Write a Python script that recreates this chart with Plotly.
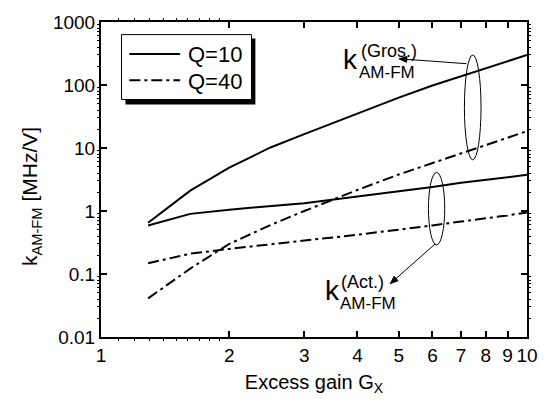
import plotly.graph_objects as go
import math

# ---- data ----
gain_x = [1.29, 1.62, 2, 2.5, 3, 4, 5, 6, 7, 8, 9, 10]
gros_q10 = [0.65, 2.1, 4.9, 10.2, 16.6, 35, 63, 98, 138, 186, 244, 300]
gros_q40 = [0.041, 0.122, 0.30, 0.60, 1.0, 2.16, 3.8, 5.8, 8.2, 11.1, 14.5, 18.5]
act_q10 = [0.59, 0.90, 1.05, 1.2, 1.33, 1.7, 2.05, 2.41, 2.8, 3.15, 3.45, 3.75]
act_q40 = [0.148, 0.21, 0.25, 0.30, 0.34, 0.42, 0.5, 0.59, 0.68, 0.76, 0.85, 0.95]

x_ticks = [1, 2, 3, 4, 5, 6, 7, 8, 9, 10]
x_ticktext = ["1", "2", "3", "4", "5", "6", "7", "8", "9", "10"]
y_ticks = [0.01, 0.1, 1, 10, 100, 1000]
y_ticktext = ["0.01", "0.1", "1", "10", "100", "1000"]
legend_names = ["Q=10", "Q=40"]

FONT = "Arial, Liberation Sans, sans-serif"
DASHDOT = "11px,4px,3px,4px"

fig = go.Figure()
for yv, dash, name in [
    (gros_q10, "solid", legend_names[0]),
    (gros_q40, DASHDOT, legend_names[1]),
    (act_q10, "solid", legend_names[0]),
    (act_q40, DASHDOT, legend_names[1]),
]:
    fig.add_trace(go.Scatter(x=gain_x, y=yv, mode="lines", name=name,
                             line=dict(color="black", width=2, dash=dash),
                             showlegend=False))

# pixel helpers (plot area: x 101..537, y 12..337)
def pxx(px):
    return (px - 101) / 436.0

def pxy(py):
    return (337 - py) / 325.0

def dx(px):
    return 10 ** ((px - 101) / 436.0)

def dy(py):
    return 10 ** ((207 - py) / 65.0)

shapes = []
# manual legend with drop shadow
shapes.append(dict(type="rect", xref="paper", yref="paper",
                   x0=pxx(126), x1=pxx(259), y0=pxy(97), y1=pxy(29),
                   fillcolor="black", line=dict(width=0), layer="above"))
shapes.append(dict(type="rect", xref="paper", yref="paper",
                   x0=pxx(122), x1=pxx(255), y0=pxy(92), y1=pxy(25),
                   fillcolor="white", line=dict(color="black", width=1), layer="above"))
for i, dash in enumerate(["solid", DASHDOT]):
    yy = pxy(45 + 27 * i)
    shapes.append(dict(type="line", xref="paper", yref="paper",
                       x0=pxx(130), x1=pxx(182), y0=yy, y1=yy,
                       line=dict(color="black", width=2, dash=dash), layer="above"))

# ellipses
shapes.append(dict(type="circle", xref="x", yref="y", x0=7.13, x1=7.80, y0=6.5, y1=300,
                   line=dict(color="black", width=1)))
shapes.append(dict(type="circle", xref="x", yref="y", x0=5.87, x1=6.41, y0=0.29, y1=4.1,
                   line=dict(color="black", width=1)))

# arrows as line + filled head
def arrow(tx, ty, hx, hy):
    L = math.hypot(hx - tx, hy - ty)
    ux, uy = (hx - tx) / L, (hy - ty) / L
    nx, ny = -uy, ux
    bx, by = hx - 8 * ux, hy - 8 * uy
    shapes.append(dict(type="line", xref="x", yref="y",
                       x0=dx(tx), y0=dy(ty), x1=dx(bx), y1=dy(by),
                       line=dict(color="black", width=1)))
    p1 = (bx + 3 * nx, by + 3 * ny)
    p2 = (bx - 3 * nx, by - 3 * ny)
    path = "M{},{} L{},{} L{},{} Z".format(dx(hx), dy(hy), dx(p1[0]), dy(p1[1]), dx(p2[0]), dy(p2[1]))
    shapes.append(dict(type="path", xref="x", yref="y", path=path,
                       fillcolor="black", line=dict(color="black", width=1)))

arrow(475, 55, 406, 50)
arrow(443, 241, 397, 282)

annotations = []
for i, name in enumerate(legend_names):
    annotations.append(dict(xref="paper", yref="paper", x=pxx(188), y=pxy(46 + 27 * i),
                            text=name, showarrow=False, xanchor="left", yanchor="middle",
                            font=dict(family=FONT, size=22, color="black")))

def lab(text, px, py, size, anchor="center"):
    annotations.append(dict(xref="paper", yref="paper", x=pxx(px), y=pxy(py), text=text,
                            showarrow=False, xanchor=anchor, yanchor="middle",
                            font=dict(family=FONT, size=size, color="black")))

lab("k", 356, 51, 28)
lab("(Gros.)", 365, 42, 18, "left")
lab("AM-FM", 363, 64, 17, "left")
lab("k", 338, 289, 28)
lab("(Act.)", 345, 280, 18, "left")
lab("AM-FM", 344, 302, 17, "left")

# y-axis title as rotated annotation
annotations.append(dict(xref="paper", yref="paper", x=pxx(30), y=pxy(192),
                        text="k<sub>AM-FM</sub> [MHz/V]", textangle=-90, showarrow=False,
                        xanchor="center", yanchor="middle",
                        font=dict(family=FONT, size=21, color="black")))

minor_x = [1 + 0.1 * i for i in range(1, 10)]
minor_y = [m * 10 ** e for e in range(-2, 3) for m in range(2, 10)]

fig.update_layout(
    width=550, height=408,
    margin=dict(l=101, r=13, t=12, b=71),
    paper_bgcolor="white", plot_bgcolor="white",
    font=dict(family=FONT, color="black"),
    shapes=shapes, annotations=annotations,
    showlegend=False,
    xaxis=dict(type="log", range=[0, 1], tickmode="array", tickvals=x_ticks, ticktext=x_ticktext,
               ticks="inside", ticklen=6, tickwidth=1.5, tickcolor="black",
               showline=True, linewidth=2, linecolor="black", mirror="allticks",
               showgrid=False, zeroline=False, tickfont=dict(size=19),
               minor=dict(tickmode="array", tickvals=minor_x, ticks="outside", ticklen=2,
                          tickwidth=1, tickcolor="black", showgrid=False),
               title=dict(text="Excess gain G<sub>X</sub>", font=dict(size=20), standoff=10)),
    yaxis=dict(type="log", range=[-2, 3], tickmode="array", tickvals=y_ticks, ticktext=y_ticktext,
               ticks="inside", ticklen=6, tickwidth=1.5, tickcolor="black",
               showline=True, linewidth=2, linecolor="black", mirror="allticks",
               showgrid=False, zeroline=False, tickfont=dict(size=19),
               minor=dict(tickmode="array", tickvals=minor_y, ticks="outside", ticklen=2,
                          tickwidth=1, tickcolor="black", showgrid=False)),
)

fig.write_html("out.html")
